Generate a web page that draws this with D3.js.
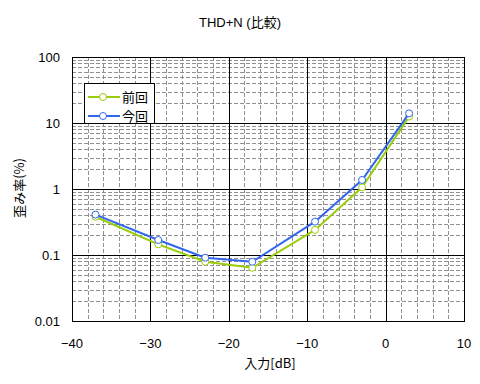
<!DOCTYPE html>
<html lang="ja">
<head>
<meta charset="UTF-8">
<title>THD+N</title>
<style>
  body { margin: 0; background: #fff; }
  text { font-family: "Liberation Sans", "Noto Sans CJK JP", sans-serif; font-size: 13px; fill: #000; }
</style>
</head>
<body>
<svg id="chart" width="480" height="384"></svg>
<script src="https://d3js.org/d3.v7.min.js"></script>
<script>

// input level (dB)
let inputs = [-37, -29, -23, -17, -9, -3, 3];
// distortion (%)
let prevVals = [0.38, 0.145, 0.079, 0.064, 0.24, 1.06, 12.5];
let currVals = [0.41, 0.169, 0.091, 0.079, 0.32, 1.37, 14.0];

let xTicks = [-40, -30, -20, -10, 0, 10];
let yTicks = [0.01, 0.1, 1, 10, 100];
let seriesNames = ["前回", "今回"];

let svg = d3.select("#chart");
let plotL = 72, plotR = 464, plotT = 57, plotB = 321;

let xScale = d3.scaleLinear().domain([-40, 10]).range([plotL, plotR]);
let yScale = d3.scaleLog().domain([0.01, 100]).range([plotB, plotT]);

let cjk = "'Noto Sans CJK JP', sans-serif";

// minor grid
let xMinor = d3.range(-40, 10.1, 2).filter(v => v % 10 !== 0);
let yMinor = [];
[0.01, 0.1, 1, 10].forEach(d => { for (let k = 2; k <= 9; k++) yMinor.push(d * k); });

let grid = svg.append("g").attr("shape-rendering", "crispEdges");
grid.selectAll(".vmin").data(xMinor).enter().append("line")
    .attr("x1", d => Math.round(xScale(d)) + 0.5).attr("x2", d => Math.round(xScale(d)) + 0.5)
    .attr("y1", plotT).attr("y2", plotB)
    .attr("stroke", "#909090").attr("stroke-dasharray", "4,2");
grid.selectAll(".hmin").data(yMinor).enter().append("line")
    .attr("x1", plotL).attr("x2", plotR)
    .attr("y1", d => Math.round(yScale(d)) + 0.5).attr("y2", d => Math.round(yScale(d)) + 0.5)
    .attr("stroke", "#909090").attr("stroke-dasharray", "4,2");

// major grid
grid.selectAll(".vmaj").data(xTicks).enter().append("line")
    .attr("x1", d => Math.round(xScale(d)) + 0.5).attr("x2", d => Math.round(xScale(d)) + 0.5)
    .attr("y1", plotT).attr("y2", plotB).attr("stroke", "#000");
grid.selectAll(".hmaj").data(yTicks).enter().append("line")
    .attr("x1", plotL).attr("x2", plotR)
    .attr("y1", d => Math.round(yScale(d)) + 0.5).attr("y2", d => Math.round(yScale(d)) + 0.5)
    .attr("stroke", "#000");

// tick labels
svg.selectAll(".xl").data(xTicks).enter().append("text")
    .attr("x", d => xScale(d)).attr("y", plotB + 27)
    .attr("text-anchor", "middle")
    .text(d => d3.format("d")(d));
svg.selectAll(".yl").data(yTicks).enter().append("text")
    .attr("x", plotL - 12).attr("y", d => yScale(d) + 5)
    .attr("text-anchor", "end")
    .text(d => d < 1 ? d.toString() : d3.format("d")(d));

// titles
svg.append("text").attr("x", 240).attr("y", 27).attr("text-anchor", "middle")
    .text("THD+N (比較)");
svg.append("text").attr("x", 270).attr("y", 368).attr("text-anchor", "middle")
    .style("font-family", cjk).text("入力[dB]");
svg.append("text").attr("transform", "translate(24,188) rotate(-90)")
    .attr("text-anchor", "middle").style("font-family", cjk).text("歪み率(%)");

// series
let series = [
    {name: seriesNames[0], vals: prevVals, color: "#9acd0a"},
    {name: seriesNames[1], vals: currVals, color: "#3366ee"}
];
let line = d3.line().x(d => xScale(d[0])).y(d => yScale(d[1]));

series.forEach(s => {
    let pts = inputs.map((x, i) => [x, s.vals[i]]);
    svg.append("path").datum(pts).attr("d", line)
        .attr("fill", "none").attr("stroke", s.color).attr("stroke-width", 2);
    svg.selectAll(null).data(pts).enter().append("circle")
        .attr("cx", d => xScale(d[0])).attr("cy", d => yScale(d[1]))
        .attr("r", 3.5).attr("fill", "#fff").attr("stroke", s.color).attr("stroke-width", 1);
});

// legend
let lg = svg.append("g").attr("transform", "translate(84,83)");
lg.append("rect").attr("x", 0.5).attr("y", 0.5).attr("width", 70).attr("height", 40)
    .attr("fill", "#fff").attr("stroke", "#000");
series.forEach((s, i) => {
    let y = 14 + i * 19;
    lg.append("line").attr("x1", 4).attr("x2", 36).attr("y1", y).attr("y2", y)
        .attr("stroke", s.color).attr("stroke-width", 2);
    lg.append("circle").attr("cx", 19).attr("cy", y).attr("r", 3.5)
        .attr("fill", "#fff").attr("stroke", s.color);
    lg.append("text").attr("x", 38).attr("y", y + 5)
        .style("font-family", cjk).style("font-size", "13px").text(s.name);
});

// plot border
svg.append("rect").attr("x", plotL + 0.5).attr("y", plotT + 0.5)
    .attr("width", plotR - plotL).attr("height", plotB - plotT)
    .attr("fill", "none").attr("stroke", "#000").attr("shape-rendering", "crispEdges");

</script>
</body>
</html>
